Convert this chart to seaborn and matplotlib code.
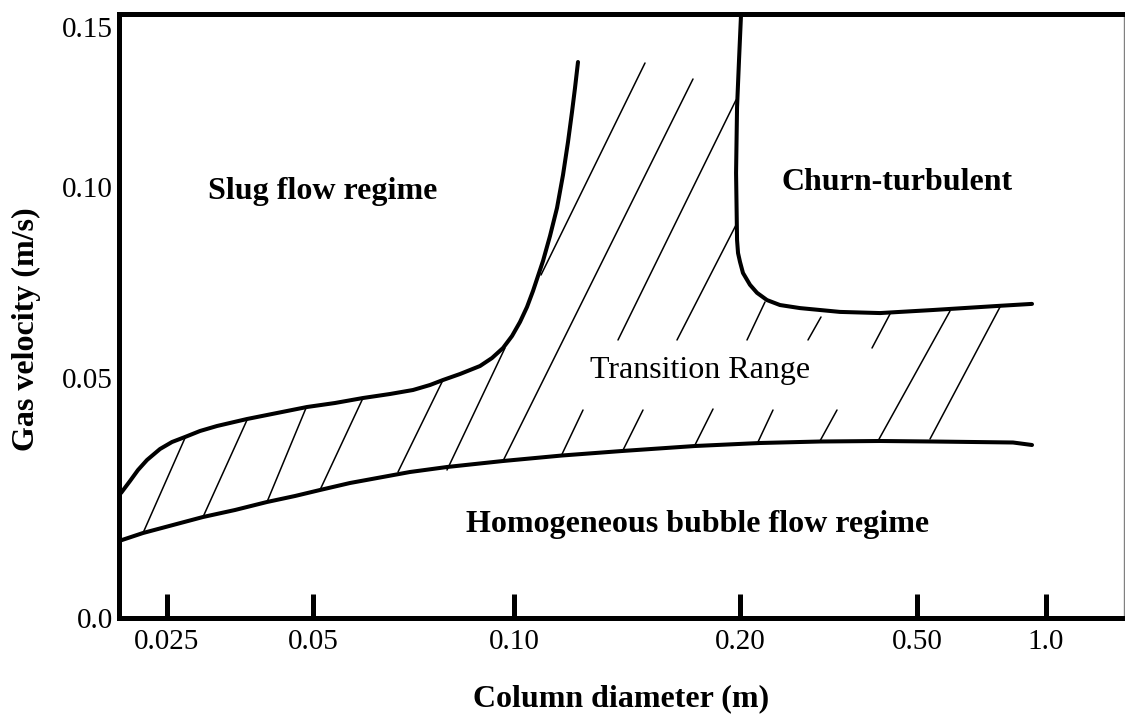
import numpy as np
import pandas as pd
import matplotlib
matplotlib.use("Agg")
import matplotlib.pyplot as plt
import seaborn as sns

# ---------------------------------------------------------------------------
# Axis ticks
# ---------------------------------------------------------------------------
DIAMETER_TICKS = [0.025, 0.05, 0.10, 0.20, 0.50, 1.0]
DIAMETER_LABELS = ["0.025", "0.05", "0.10", "0.20", "0.50", "1.0"]
VELOCITY_TICKS = [0.0, 0.05, 0.10, 0.15]
VELOCITY_LABELS = ["0.0", "0.05", "0.10", "0.15"]
VELOCITY_MARKED = [0.05, 0.10]

# ---------------------------------------------------------------------------
# Regime boundaries: column diameter (m) vs superficial gas velocity (m/s)
# ---------------------------------------------------------------------------
# homogeneous bubble flow -> transition
bubble_d = [0.019906, 0.022308, 0.025722, 0.029660, 0.034526, 0.040189,
            0.045907, 0.051222, 0.056805, 0.062996, 0.069862, 0.079370,
            0.087423, 0.096285, 0.115861, 0.139268, 0.174230, 0.221818,
            0.302620, 0.412862, 0.544885, 0.837500, 0.927595]
bubble_v = [0.016042, 0.017708, 0.019375, 0.021042, 0.022500, 0.024167,
            0.025417, 0.026667, 0.028125, 0.029271, 0.030417, 0.031458,
            0.032083, 0.032708, 0.033854, 0.034792, 0.035833, 0.036458,
            0.036771, 0.036875, 0.036771, 0.036563, 0.036042]

# transition -> slug flow
slug_d = [0.020096, 0.020973, 0.021784, 0.022735, 0.024183, 0.025601,
          0.027229, 0.029240, 0.031698, 0.036551, 0.042148, 0.048596,
          0.053941, 0.059410, 0.065206, 0.070589, 0.074851, 0.078282,
          0.083015, 0.088943, 0.092701, 0.096285, 0.099320, 0.101857,
          0.104068, 0.106001, 0.107639, 0.109302, 0.111674, 0.114097,
          0.116216, 0.118012, 0.119469, 0.120573, 0.121688]
slug_v = [0.026042, 0.028542, 0.030833, 0.032917, 0.035208, 0.036667,
          0.037708, 0.038958, 0.040000, 0.041458, 0.042708, 0.043958,
          0.044792, 0.045833, 0.046667, 0.047500, 0.048542, 0.049583,
          0.051047, 0.053141, 0.055236, 0.057853, 0.060995, 0.064660,
          0.068586, 0.072775, 0.076702, 0.080628, 0.087173, 0.094503,
          0.103750, 0.114063, 0.123438, 0.130938, 0.139063]

# transition -> churn-turbulent
churn_d = [0.2010, 0.1994, 0.1982, 0.1976, 0.1982, 0.1988, 0.2000, 0.2031,
           0.2106, 0.2184, 0.2300, 0.2460, 0.2728, 0.3356, 0.4129, 0.5449,
           0.7810, 0.9276]
churn_v = [0.1534, 0.1397, 0.1250, 0.1044, 0.0861, 0.0827, 0.0804, 0.0775,
           0.0744, 0.0723, 0.0704, 0.0691, 0.0683, 0.0673, 0.0670, 0.0678,
           0.0689, 0.0694]

# Hatch strokes shading the transition range (start / end of each stroke)
hatch_d0 = [0.02231, 0.02966, 0.04019, 0.05122, 0.06703, 0.07937, 0.10863,
            0.09628, 0.1159, 0.13757, 0.1393, 0.16486, 0.1742, 0.20738,
            0.21953, 0.28438, 0.3026, 0.39614, 0.40858, 0.53617]
hatch_v0 = [0.01771, 0.02104, 0.02417, 0.02667, 0.03042, 0.03083, 0.07696,
            0.03271, 0.03417, 0.05995, 0.03458, 0.05995, 0.03604, 0.05995,
            0.03667, 0.05995, 0.03688, 0.05785, 0.03688, 0.03729]
hatch_d1 = [0.02723, 0.03655, 0.04837, 0.05941, 0.07828, 0.09694, 0.14945,
            0.17315, 0.12357, 0.19756, 0.14853, 0.19756, 0.18411, 0.22764,
            0.23725, 0.30418, 0.33045, 0.43476, 0.5970, 0.7810]
hatch_v1 = [0.03750, 0.04125, 0.04375, 0.04583, 0.04958, 0.05785, 0.13875,
            0.13375, 0.04333, 0.12719, 0.04333, 0.09005, 0.04354, 0.06990,
            0.04333, 0.06597, 0.04333, 0.06675, 0.06754, 0.06859]

# ---------------------------------------------------------------------------
# Schematic (non-uniform) axis scales: relative position along each axis
# ---------------------------------------------------------------------------
LOG_D_ANCHORS = np.log10([0.01] + DIAMETER_TICKS + [3.0])
X_FRAC = [-0.14435, 0.04779, 0.19313, 0.39323, 0.61822, 0.79443, 0.92285, 1.12633]
V_ANCHORS = [-0.05, 0.0, 0.05, 0.10, 0.15, 0.20]
Y_FRAC = [-0.39702, 0.0, 0.39702, 0.71299, 0.97767, 1.24235]


def x_forward(d):
    d = np.clip(np.asarray(d, dtype=float), 1e-9, None)
    return np.interp(np.log10(d), LOG_D_ANCHORS, X_FRAC)


def x_inverse(p):
    return 10.0 ** np.interp(np.asarray(p, dtype=float), X_FRAC, LOG_D_ANCHORS)


def y_forward(v):
    return np.interp(np.asarray(v, dtype=float), V_ANCHORS, Y_FRAC)


def y_inverse(p):
    return np.interp(np.asarray(p, dtype=float), Y_FRAC, V_ANCHORS)


# ---------------------------------------------------------------------------
# Figure
# ---------------------------------------------------------------------------
sns.set_theme(style="white")
plt.rcParams["font.family"] = ["Liberation Serif", "DejaVu Serif"]

W, H = 1125, 715
fig = plt.figure(figsize=(W / 100, H / 100), dpi=100)
ax = fig.add_axes([119 / W, (H - 618) / H, 1004.5 / W, 604.5 / H])

boundaries = pd.concat([
    pd.DataFrame({"diameter": bubble_d, "velocity": bubble_v, "boundary": "bubble"}),
    pd.DataFrame({"diameter": slug_d, "velocity": slug_v, "boundary": "slug"}),
    pd.DataFrame({"diameter": churn_d, "velocity": churn_v, "boundary": "churn"}),
], ignore_index=True)

n_hatch = len(hatch_d0)
hatch = pd.DataFrame({
    "diameter": np.ravel(np.column_stack([hatch_d0, hatch_d1])),
    "velocity": np.ravel(np.column_stack([hatch_v0, hatch_v1])),
    "stroke": np.repeat(np.arange(n_hatch), 2),
})

sns.lineplot(data=hatch, x="diameter", y="velocity", units="stroke",
             estimator=None, sort=False, color="black", linewidth=1.1, ax=ax)
sns.lineplot(data=boundaries, x="diameter", y="velocity", units="boundary",
             estimator=None, sort=False, color="black", linewidth=2.9, ax=ax)
for line in ax.get_lines():
    line.set_solid_capstyle("round")
    line.set_solid_joinstyle("round")

ax.set_xscale("function", functions=(x_forward, x_inverse))
ax.set_yscale("function", functions=(y_forward, y_inverse))
ax.set_xlim(float(x_inverse(0.0)), float(x_inverse(1.0)))
ax.set_ylim(0.0, float(y_inverse(1.0)))

# ticks
ax.set_xticks(DIAMETER_TICKS, DIAMETER_LABELS)
ax.set_yticks(VELOCITY_TICKS, VELOCITY_LABELS)
ax.set_yticks(VELOCITY_MARKED, minor=True)
ax.xaxis.set_minor_locator(matplotlib.ticker.NullLocator())
ax.tick_params(axis="x", which="major", direction="in", length=17.3, width=3.6,
               color="black", labelsize=21, pad=8, labelcolor="black", bottom=True)
ax.tick_params(axis="y", which="major", direction="in", length=0,
               labelsize=21, pad=4.5, labelcolor="black")
ax.tick_params(axis="y", which="minor", direction="in", length=17.3, width=3.6,
               color="black", left=True)

# frame
for side in ("left", "bottom", "top"):
    ax.spines[side].set_color("black")
    ax.spines[side].set_linewidth(3.6)
    ax.spines[side].set_visible(True)
ax.spines["right"].set_color("#808080")
ax.spines["right"].set_linewidth(1.0)
ax.grid(False)

# axis titles
ax.set_xlabel("Column diameter (m)", fontsize=23, fontweight="bold", color="black")
ax.set_ylabel("Gas velocity (m/s)", fontsize=23, fontweight="bold", color="black")
ax.xaxis.set_label_coords(0.5, -0.11)
ax.yaxis.set_label_coords(-0.078, 0.478)

# regime annotations
bold = dict(fontsize=23, fontweight="bold", color="black",
            ha="center", va="center", transform=ax.transAxes)
ax.text(0.203, 0.705, "Slug flow regime", **bold)
ax.text(0.775, 0.720, "Churn-turbulent", **bold)
ax.text(0.576, 0.154, "Homogeneous bubble flow regime", **bold)
ax.text(0.578, 0.409, "Transition Range", fontsize=23, color="black",
        ha="center", va="center", transform=ax.transAxes)

fig.savefig("out.png", dpi=100, facecolor="white")
